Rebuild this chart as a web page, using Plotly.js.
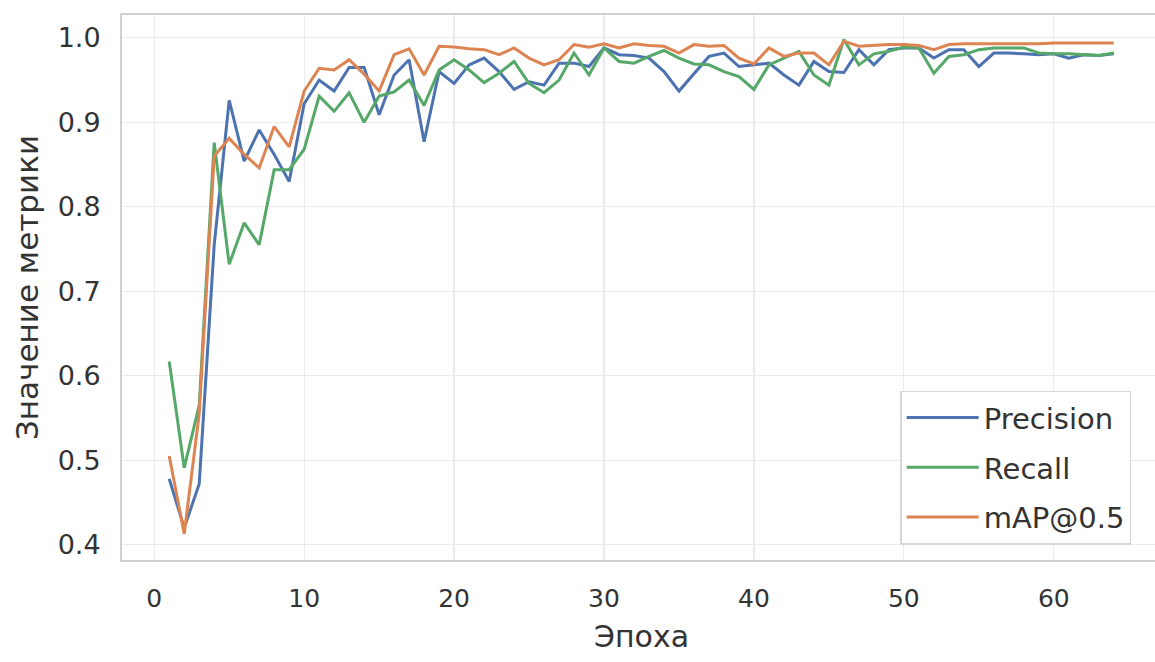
<!DOCTYPE html>
<html>
<head>
<meta charset="utf-8">
<script src="https://cdn.plot.ly/plotly-3.0.1.min.js"></script>
<style>
html, body { margin: 0; padding: 0; overflow: hidden; background: #ffffff; }
#chart { width: 1166px; height: 662px; }
</style>
</head>
<body>
<div id="chart"></div>
<script>
const epochs = [1,2,3,4,5,6,7,8,9,10,11,12,13,14,15,16,17,18,19,20,21,22,23,24,25,26,27,28,29,30,31,32,
  33,34,35,36,37,38,39,40,41,42,43,44,45,46,47,48,49,50,51,52,53,54,55,56,57,58,59,60,61,62,63,64];

const precision = [0.478,0.420,0.472,0.755,0.926,0.854,0.891,0.862,0.830,0.922,
  0.950,0.937,0.965,0.965,0.909,0.956,0.974,0.877,0.960,0.946,
  0.968,0.976,0.960,0.939,0.948,0.944,0.970,0.970,0.966,0.988,
  0.980,0.979,0.976,0.960,0.937,0.958,0.978,0.982,0.966,0.968,
  0.970,0.956,0.944,0.972,0.960,0.959,0.986,0.968,0.986,0.988,
  0.988,0.976,0.986,0.986,0.966,0.982,0.982,0.981,0.980,0.981,
  0.976,0.980,0.979,0.981];

const recall = [0.617,0.491,0.565,0.876,0.732,0.781,0.755,0.844,0.844,0.868,
  0.931,0.913,0.935,0.900,0.931,0.936,0.950,0.920,0.962,0.974,
  0.962,0.947,0.958,0.972,0.946,0.935,0.950,0.982,0.956,0.988,
  0.972,0.970,0.978,0.985,0.976,0.969,0.968,0.960,0.954,0.939,
  0.968,0.976,0.984,0.956,0.944,0.998,0.968,0.981,0.984,0.989,
  0.988,0.958,0.978,0.980,0.986,0.988,0.988,0.988,0.982,0.981,
  0.981,0.980,0.979,0.982];

const map50 = [0.505,0.413,0.555,0.860,0.881,0.862,0.846,0.895,0.871,0.937,
  0.964,0.962,0.974,0.957,0.937,0.980,0.987,0.956,0.990,0.989,
  0.987,0.986,0.980,0.988,0.976,0.968,0.974,0.992,0.989,0.993,
  0.988,0.993,0.991,0.990,0.982,0.992,0.990,0.991,0.976,0.969,
  0.988,0.978,0.982,0.982,0.968,0.996,0.990,0.991,0.992,0.992,
  0.991,0.986,0.992,0.993,0.993,0.993,0.993,0.993,0.993,0.994,
  0.994,0.994,0.994,0.994];

const seriesNames = ["Precision", "Recall", "mAP@0.5"];
const xTickVals = [0,10,20,30,40,50,60];
const yTickVals = [0.4,0.5,0.6,0.7,0.8,0.9,1.0];
const yTickText = ["0.4","0.5","0.6","0.7","0.8","0.9","1.0"];
const xTitle = "Эпоха";
const yTitle = "Значение метрики";

const colors = ["#4c72b0", "#55a868", "#dd8452"];
const values = [precision, recall, map50];

const traces = values.map((v, i) => ({
  x: epochs, y: v, type: "scatter", mode: "lines", name: seriesNames[i],
  legendgroup: "g" + i,
  line: { color: colors[i], width: 3 }
}));

const font = "DejaVu Sans, Arial, sans-serif";
const layout = {
  width: 1166, height: 662,
  margin: { l: 122, r: 5, t: 15, b: 102 },
  paper_bgcolor: "#ffffff", plot_bgcolor: "#ffffff",
  font: { family: font, color: "#333333", size: 26 },
  showlegend: true,
  legend: {
    x: 0.749, y: 0.028, xanchor: "left", yanchor: "bottom",
    bgcolor: "rgba(255,255,255,0.85)", bordercolor: "#d6d6d6", borderwidth: 1.5,
    font: { family: font, size: 29, color: "#333333" },
    itemwidth: 72, traceorder: "grouped", tracegroupgap: 9
  },
  xaxis: {
    range: [-2.15, 67.15], tickvals: xTickVals, ticks: "",
    showgrid: true, gridcolor: "#ebebeb", gridwidth: 1.2, zeroline: false,
    showline: true, mirror: true, linecolor: "#d0d0d0", linewidth: 2,
    tickfont: { family: font, size: 25, color: "#333333" },
    ticklabelstandoff: 15,
    title: { text: xTitle, font: { family: font, size: 30, color: "#333333" }, standoff: 14 }
  },
  yaxis: {
    range: [0.382, 1.027], tickvals: yTickVals, ticktext: yTickText, ticks: "",
    showgrid: true, gridcolor: "#ebebeb", gridwidth: 1.2, zeroline: false,
    showline: true, mirror: true, linecolor: "#d0d0d0", linewidth: 2,
    tickfont: { family: font, size: 27, color: "#333333" },
    ticklabelstandoff: 14,
    title: { text: yTitle, font: { family: font, size: 31, color: "#333333" }, standoff: 10 }
  }
};

Plotly.newPlot("chart", traces, layout, { displayModeBar: false, staticPlot: true });
</script>
</body>
</html>
